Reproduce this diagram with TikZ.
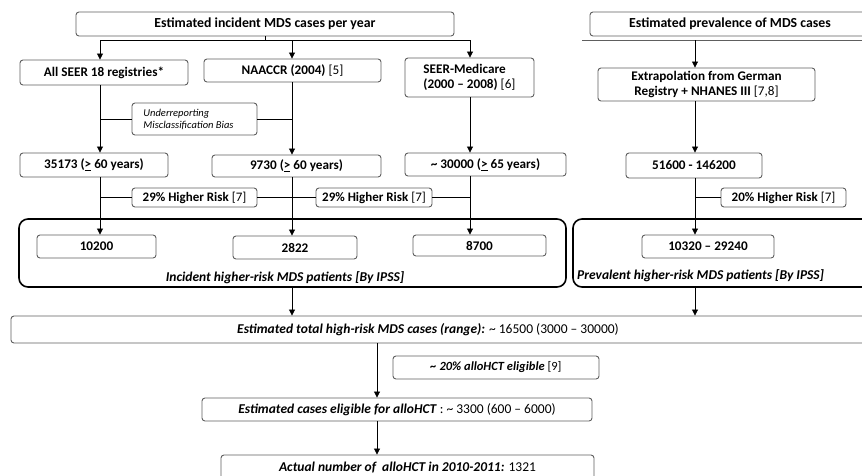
\documentclass[tikz,border=0pt]{standalone}
\usepackage{fontspec}
\setmainfont{Carlito}
\usetikzlibrary{arrows.meta}
\definecolor{bgray}{HTML}{5E5E5E}
\tikzset{
  sbox/.style={draw=bgray, line width=0.9pt, rounded corners=3pt, inner sep=0pt, align=center,
               font=\bfseries\fontsize{13.2}{14.5}\selectfont},
  cbox/.style={draw=black, line width=1.6pt, rounded corners=9pt, inner sep=0pt},
  arr/.style={-{Triangle[length=6pt,width=6pt]}, line width=0.8pt},
  ln/.style={line width=0.8pt},
  lbl/.style={inner sep=0pt, font=\bfseries\itshape\fontsize{13.5}{15}\selectfont},
  hbox/.style={sbox, minimum height=19pt, font=\bfseries\fontsize{13}{14}\selectfont},
}
\begin{document}
\begin{tikzpicture}[x=1pt,y=-1pt]
\clip (0,0) rectangle (862,475);
\fill[white] (0,0) rectangle (862,475);

% column x positions
\coordinate (c1) at (100,0);
\coordinate (c2) at (292,0);
\coordinate (c3) at (470,0);
\coordinate (c4) at (695,0);
\coordinate (c5) at (377,0);

% top boxes
\node[sbox, minimum width=378pt, minimum height=24pt, font=\bfseries\fontsize{13.8}{15}\selectfont] (inc) at (265,24) {Estimated incident MDS cases per year};
\node[sbox, minimum width=290pt, minimum height=24pt, font=\bfseries\fontsize{13.8}{15}\selectfont] (prev) at (735,24) {\hspace*{-10pt}Estimated prevalence of MDS cases};
\coordinate (pl1) at (582,40);
\coordinate (pl2) at (880,40);
\draw[line width=0.9pt, bgray] (pl1) -- (pl2);

% second row
\node[sbox, minimum width=168pt, minimum height=25pt] (seer) at (104,72.5) {All SEER 18 registries*};
\node[sbox, minimum width=177pt, minimum height=23pt] (naac) at (292.5,70.5) {NAACCR (2004) {\mdseries [5]}};
\node[sbox, minimum width=129pt, minimum height=39pt, align=left] (smed) at (469.5,77.5) {SEER-Medicare\\(2000 – 2008) {\mdseries [6]}};
\node[sbox, minimum width=217pt, minimum height=33pt] (extr) at (706.5,84.5) {Extrapolation from German\\Registry + NHANES III {\mdseries [7,8]}};

% junction from incident box
\coordinate (j0) at (inc.south |- 0,40);
\draw[ln] (inc.south) -- (j0);
\draw[ln] (j0 -| c1) -- (j0 -| c3);
\draw[arr] (j0 -| c1) -- (seer.north -| c1);
\draw[arr] (j0 -| c2) -- (naac.north -| c2);
\draw[arr] (j0 -| c3) -- (smed.north -| c3);
\draw[arr] (pl1 -| c4) -- (extr.north -| c4);

% underreporting
\node[sbox, minimum width=125pt, minimum height=32pt, align=left, font=\itshape\fontsize{10.5}{12}\selectfont] (ub) at (194.5,119) {Underreporting\\Misclassification Bias\hspace*{12pt}};

% third row
\node[sbox, minimum width=148pt, minimum height=24pt] (r1) at (94,165) {35173 (\underline{>} 60 years)};
\node[sbox, minimum width=169pt, minimum height=22pt] (r2) at (296.5,166) {9730 (\underline{>} 60 years)};
\node[sbox, minimum width=161pt, minimum height=23pt] (r3) at (485.5,164.5) {\textasciitilde{} 30000 (\underline{>} 65 years)};
\node[sbox, minimum width=136pt, minimum height=25pt] (r4) at (694,165.5) {51600 - 146200};

\draw[arr] (seer.south -| c1) -- (r1.north -| c1);
\draw[arr] (naac.south -| c2) -- (r2.north -| c2);
\draw[arr] (smed.south -| c3) -- (r3.north -| c3);
\draw[arr] (extr.south -| c4) -- (r4.north -| c4);
\draw[ln] (ub.west -| c1) -- (ub.west);
\draw[ln] (ub.east) -- (ub.east -| c2);

% higher risk boxes
\node[hbox, minimum width=125pt] (h1) at (194.5,197.5) {29\% Higher Risk {\mdseries [7]}};
\node[hbox, minimum width=116pt] (h2) at (374,197.5) {29\% Higher Risk {\mdseries [7]}};
\node[hbox, minimum width=125pt] (h3) at (783.5,197.5) {20\% Higher Risk {\mdseries [7]}};

% containers
\node[cbox, minimum width=547pt, minimum height=68pt] (cI) at (292.5,253) {};
\node[cbox, minimum width=307pt, minimum height=68pt] (cP) at (726.5,253) {};
\node[lbl] (lI) at (285,278) {Incident higher-risk MDS patients [By IPSS]};
\node[lbl, anchor=west] (lP) at (577,276) {Prevalent higher-risk MDS patients [By IPSS]};

% inner boxes
\node[sbox, minimum width=119pt, minimum height=23pt] (n1) at (96.5,246.5) {10200};
\node[sbox, minimum width=124pt, minimum height=23pt] (n2) at (295,247.5) {2822};
\node[sbox, minimum width=133pt, minimum height=21pt] (n3) at (479.5,245.5) {8700};
\node[sbox, minimum width=132pt, minimum height=23pt] (n4) at (708,246.5) {10320 – 29240};

\draw[arr] (r1.south -| c1) -- (n1.north -| c1);
\draw[arr] (r2.south -| c2) -- (n2.north -| c2);
\draw[arr] (r3.south -| c3) -- (n3.north -| c3);
\draw[arr] (r4.south -| c4) -- (n4.north -| c4);
\draw[ln] (h1.west -| c1) -- (h1.west);
\draw[ln] (h1.east) -- (h2.west);
\draw[ln] (h2.east) -- (h2.east -| c3);
\draw[ln] (h3.west -| c4) -- (h3.west);

% total
\node[sbox, minimum width=869pt, minimum height=27pt] (tot) at (445.5,329.5) {};
\node[inner sep=0pt, font=\fontsize{13.5}{15}\selectfont] (totl) at (428,329.5) {\textbf{\textit{Estimated total high-risk MDS cases (range):}} \textasciitilde{} 16500 (3000 – 30000)};
\draw[arr] (cI.south -| c2) -- (tot.north -| c2);
\draw[arr] (cP.south -| c4) -- (tot.north -| c4);

% eligibility
\node[sbox, minimum width=206pt, minimum height=23pt, font=\fontsize{12.5}{14}\selectfont] (e20) at (496,367.5) {\textbf{\textit{\textasciitilde{} 20\% alloHCT eligible}} [9]};
\node[sbox, minimum width=390pt, minimum height=23pt, font=\fontsize{13.5}{15}\selectfont] (elig) at (397,409.5) {\textbf{\textit{Estimated cases eligible for alloHCT}} : \textasciitilde{} 3300 (600 – 6000)};
\node[sbox, minimum width=373pt, minimum height=26pt, font=\fontsize{13.5}{15}\selectfont] (act) at (407.5,468) {\textbf{\textit{Actual number of\ \ alloHCT in 2010-2011:}} 1321};
\draw[arr] (tot.south -| c5) -- (elig.north -| c5);
\draw[arr] (elig.south -| c5) -- (act.north -| c5);
\end{tikzpicture}
\end{document}
